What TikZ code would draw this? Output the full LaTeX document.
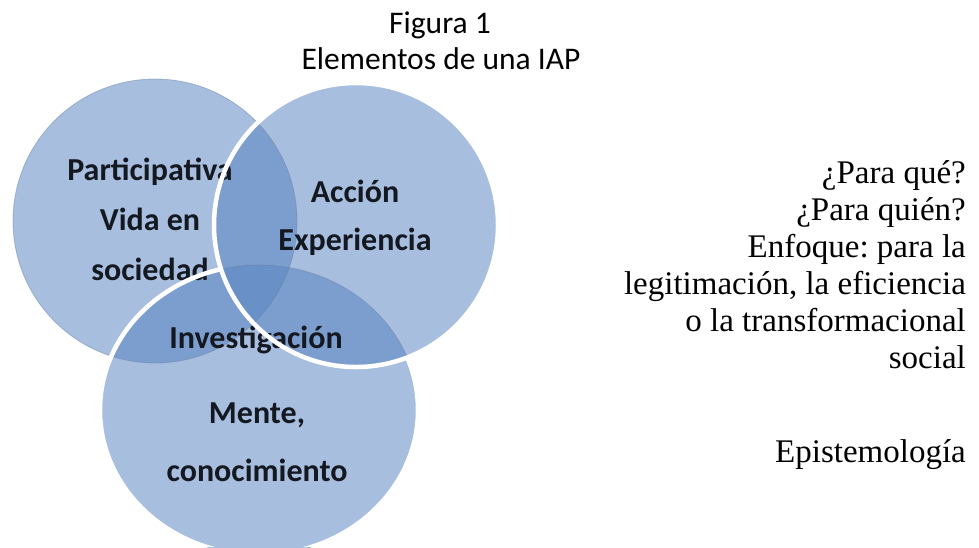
\documentclass[tikz,border=0pt]{standalone}
\usepackage{fontspec}
\setmainfont{Carlito}
\newfontfamily\notefont{Liberation Serif}
\definecolor{vennblue}{HTML}{5682C0}
\definecolor{vennink}{HTML}{141820}
\frenchspacing

\begin{document}
\begin{tikzpicture}[x=1pt,y=-1pt,
  venn/.style={fill=vennblue,fill opacity=0.52},
  edge/.style={draw=vennblue!60!gray,line width=0.8pt,draw opacity=0.45},
  rim/.style={draw=white,line width=4.5pt},
  lbl/.style={inner sep=0pt,align=center,text=vennink,font=\bfseries\fontsize{32}{50}\selectfont},
  head/.style={inner sep=0pt,font=\fontsize{31.5}{36}\selectfont},
  note/.style={inner sep=0pt,anchor=east,align=right,font=\notefont\fontsize{33}{37}\selectfont}]
\useasboundingbox (0,0) rectangle (979,547);
\node [head] (fig) at (440,25) {Figura 1};
\node [head] (tit) at (441,59) {Elementos de una IAP};
\fill [venn] (155,221) circle (142pt);
\fill [venn] (259,410) ellipse (159pt and 145pt);
\fill [venn] (356,225) circle (142pt);
\draw [edge] (155,221) circle (142pt);
\draw [edge] (259,410) ellipse (159pt and 145pt);
\draw [edge] (356,225) circle (142pt);
\node [lbl] (part) at (150,219) {Participativa\\Vida en\\sociedad};
\node [lbl,font=\bfseries\fontsize{32}{48}\selectfont] (acc) at (355,218) {Acción\\Experiencia};
\node [lbl] (inv) at (256,340) {Investigación};
\node [lbl,font=\bfseries\fontsize{32}{58}\selectfont] (mente) at (257,442) {Mente,\\conocimiento};
\begin{scope}[even odd rule]
\clip (0,0) rectangle (979,547) (356,225) circle (142pt);
\draw [rim] (259,410) ellipse (159pt and 145pt);
\end{scope}
\draw [rim] (356,225) circle (142pt);
\node [note] (qs) at (966,265) {¿Para qué?\\¿Para quién?\\Enfoque: para la\\legitimación, la eficiencia\\o la transformacional\\social};
\node [note] (epis) at (966,455) {Epistemología};
\end{tikzpicture}
\end{document}
